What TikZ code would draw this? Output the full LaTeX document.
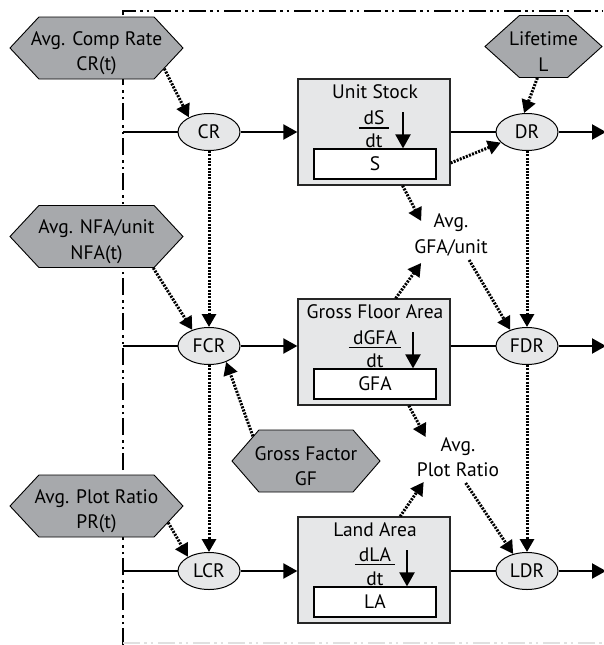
\documentclass[tikz,border=0pt]{standalone}
\usepackage{fontspec}
\setmainfont{PT Sans}
\usetikzlibrary{shapes.geometric,shapes.symbols,arrows.meta,calc}

\definecolor{hexfill}{HTML}{A7A9AC}
\definecolor{boxfill}{HTML}{E6E7E8}

\begin{document}
\begin{tikzpicture}[x=1pt,y=-1pt,
  font=\fontsize{19.5}{25.5}\selectfont,
  hexa/.style={shape=signal, signal to=west and east, signal pointer angle=94,
    draw=black, line width=0.9pt, fill=hexfill,
    minimum width=173pt, minimum height=62pt, inner sep=0pt},
  hextext/.style={align=center, inner sep=0pt},
  rate/.style={ellipse, draw=black, line width=1pt, fill=boxfill,
    minimum width=62pt, minimum height=37pt, inner sep=0pt},
  stockbox/.style={rectangle, draw=black!85, line width=1.3pt, fill=boxfill,
    minimum width=152pt, minimum height=106pt, inner sep=0pt},
  level/.style={rectangle, draw=black, line width=1.2pt, fill=white,
    minimum width=122pt, minimum height=30pt, inner sep=0pt},
  caption/.style={anchor=base, inner sep=0pt},
  note/.style={align=center, inner sep=0pt},
  fracbar/.style={line width=1.3pt},
  flowline/.style={line width=2.2pt},
  flow/.style={line width=2.2pt, -{Triangle[length=14pt,width=15pt]}},
  stockin/.style={line width=2.2pt, -{Triangle[length=14pt,width=15pt]}},
  info/.style={line width=3pt, dash pattern=on 2pt off 1.3pt,
    -{Triangle[length=13pt,width=14pt]}},
  boundary/.style={line width=2pt,
    dash pattern=on 17pt off 4pt on 2.5pt off 4pt on 2.5pt off 5pt},
]
\useasboundingbox (0,0) rectangle (603,645);

% system boundary
\coordinate (bTop) at (123,11);
\coordinate (bRight) at (603,11);
\coordinate (bBottom) at (123,645);
\coordinate (exitR) at (606,11);
\draw[boundary] (bBottom) -- (bTop) -- (bRight);
\draw[boundary, draw=black!12] (123,643) -- (603,643);

% exogenous inputs
\node[hexa] (hC) at (96.5,48) {};
\node[hextext, yshift=-5pt] at (hC) {Avg. Comp Rate\\CR(t)};
\node[hexa] (hN) at (96.5,236.5) {};
\node[hextext, yshift=-5pt] at (hN) {Avg. NFA/unit\\NFA(t)};
\node[hexa] (hP) at (96.5,506) {};
\node[hextext, yshift=-5pt] at (hP) {Avg. Plot Ratio\\PR(t)};
\node[hexa, minimum width=117pt, signal pointer angle=84] (hL) at (543.5,46.5) {};
\node[hextext, yshift=-5pt] at (hL) {Lifetime\\L};
\node[hexa, minimum width=148pt, signal pointer angle=98] (hG) at (306,461) {};
\node[hextext, yshift=-5pt] at (hG) {Gross Factor\\GF};

% rates
\node[rate] (cr)  at (209,132) {CR};
\node[rate] (dr)  at (527,132) {DR};
\node[rate] (fcr) at (209,346) {FCR};
\node[rate] (fdr) at (527,346) {FDR};
\node[rate] (lcr) at (209,571) {LCR};
\node[rate] (ldr) at (527,571) {LDR};

% stock: unit stock
\node[stockbox] (stock) at (374,132) {};
\node[level] (sLev) at (375,164) {S};
\node[caption] at (375,98) {Unit Stock};
\node[caption] (sNum) at (374,124.5) {dS};
\node[caption] (sDen) at (374,147) {dt};
\draw[fracbar] ($(sNum.base west)+(-4,3.5)$) -- ($(sNum.base east)+(4,3.5)$);
\coordinate (sArr) at (403,112);
\draw[stockin] (sArr) -- (sArr |- sLev.north);

% stock: gross floor area
\node[stockbox] (gfa) at (374,352) {};
\node[level] (gLev) at (375,384) {GFA};
\node[caption] at (375,318) {Gross Floor Area};
\node[caption] (gNum) at (375,344) {dGFA};
\node[caption] (gDen) at (375,367) {dt};
\draw[fracbar] ($(gNum.base west)+(-4,3.5)$) -- ($(gNum.base east)+(4,3.5)$);
\coordinate (gArr) at (413,332);
\draw[stockin] (gArr) -- (gArr |- gLev.north);

% stock: land area
\node[stockbox] (land) at (374,570) {};
\node[level] (lLev) at (375,602) {LA};
\node[caption] at (375,536) {Land Area};
\node[caption] (lNum) at (375,561) {dLA};
\node[caption] (lDen) at (375,585) {dt};
\draw[fracbar] ($(lNum.base west)+(-4,3.5)$) -- ($(lNum.base east)+(4,3.5)$);
\coordinate (lArr) at (407,550);
\draw[stockin] (lArr) -- (lArr |- lLev.north);

% auxiliary variables
\node[note] (gfau) at (451,235) {Avg.\\GFA/unit};
\node[note] (plr) at (458,457) {Avg.\\Plot Ratio};
\coordinate (gfauIn)  at ($(gfau.west)+(7,-14)$);
\coordinate (gfauIn2) at ($(gfau.west)+(7,28)$);
\coordinate (gfauOut) at ($(gfau.west)+(55,25)$);
\coordinate (plrIn)   at ($(plr.west)+(9,-20)$);
\coordinate (plrIn2)  at ($(plr.west)+(7,25)$);
\coordinate (plrOut)  at ($(plr.west)+(49,26)$);

% material flows
\draw[flowline] (bTop |- cr) -- (cr);
\draw[flow] (cr) -- (cr -| stock.west);
\draw[flowline] (stock.east |- dr) -- (dr);
\draw[flow] (dr) -- (dr -| exitR);

\draw[flowline] (bTop |- fcr) -- (fcr);
\draw[flow] (fcr) -- (fcr -| gfa.west);
\draw[flowline] (gfa.east |- fdr) -- (fdr);
\draw[flow] (fdr) -- (fdr -| exitR);

\draw[flowline] (bTop |- lcr) -- (lcr);
\draw[flow] (lcr) -- (lcr -| land.west);
\draw[flowline] (land.east |- ldr) -- (ldr);
\draw[flow] (ldr) -- (ldr -| exitR);

% information links
\draw[info] (hC.-17) -- (cr.144);
\draw[info] (hN.-29) -- (fcr.136);
\draw[info] (hP.-13) -- (lcr.146);
\draw[info] (hG.155) -- (fcr.-43);
\draw[info] (hL.-101) -- (dr.99);
\draw[info] (cr) -- (fcr);
\draw[info] (fcr) -- (lcr);
\draw[info] (dr) -- (fdr);
\draw[info] (fdr) -- (ldr);
\draw[info] (stock.-22) -- (dr.202);
\draw[info] (stock.-62) -- (gfauIn);
\draw[info] (gfa.68) -- (gfauIn2);
\draw[info] (gfauOut) -- (fdr.136);
\draw[info] (gfa.-57) -- (plrIn);
\draw[info] (land.64) -- (plrIn2);
\draw[info] (plrOut) -- (ldr.129);
\end{tikzpicture}
\end{document}
